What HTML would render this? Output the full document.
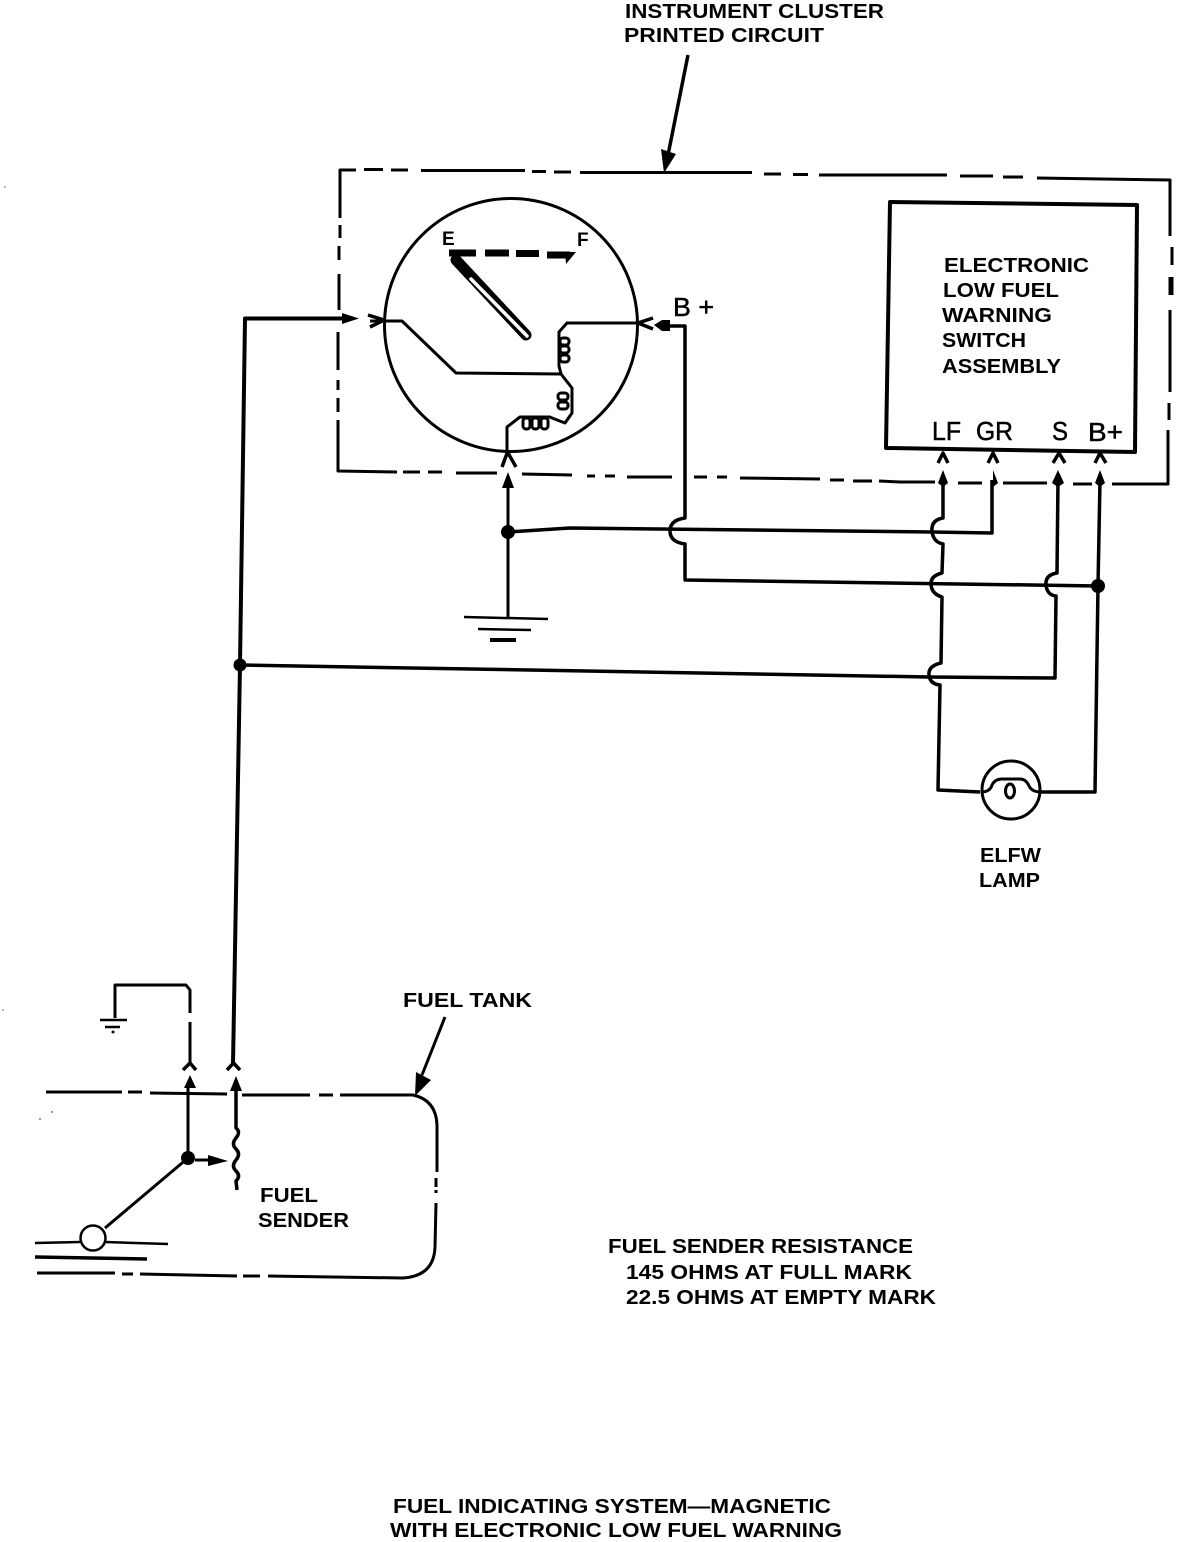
<!DOCTYPE html>
<html><head><meta charset="utf-8"><style>
html,body{margin:0;padding:0;background:#fff}
svg{display:block}
text{font-family:"Liberation Sans",sans-serif;font-weight:bold;font-size:20.500px;fill:#000}
.r{font-weight:normal;font-size:26px;stroke:#000;stroke-width:.5px}
</style></head><body>
<svg width="1184" height="1542" viewBox="0 0 1184 1542" xmlns="http://www.w3.org/2000/svg">
<g fill="none" stroke="#000" stroke-width="3" stroke-linejoin="round">
<!-- top dashed border -->
<path stroke-width="3" d="M340 218V170H356M364 169.500H383M391 170H408M421 170.500H525M532 171.500H546M554 172H571M580 172.500H752M764 174H781M793 174.500H808M819 175H947M960 176H993M1003 177H1023M1037 178L1170 180V236"/>
<path d="M1172 247V265M1170 310V392M1169 403V420M1168 430V484H1112"/>
<path stroke-width="5" d="M1171 277V295"/>
<path d="M1150 484H1112M1092 484H1073M1047 483H1003M982 483H958M935 482H900L879 481M872 481H853M844 480H830M820 479L740 478M727 477H717M707 477H694M672 477H627M615 476H605M595 476H587M572 475L522 474M497 473H456M442 472H428M420 472H403M397 472L338 471V420M338 412V398M338 390V380M338 370V332M339 310V274M339 260V246M340 238V225"/>
<!-- arrow from label -->
<path stroke-width="3.500" d="M688 55L668 155"/>
<path fill="#000" stroke="none" d="M661 149L676 154L664 173Z"/>
<!-- gauge -->
<circle cx="511" cy="325" r="126.500" stroke-width="3"/>
<path stroke-width="3" d="M370 321H402L456 373L560 374M638 323H567L559 332V366L561 374L572 388V413L565 423L552 418L550 417H520L507 427V451"/>
<g stroke-width="3"><rect x="560" y="338" width="9" height="7" rx="3"/><rect x="560" y="346" width="9" height="7" rx="3"/><rect x="560" y="355" width="9" height="7" rx="3"/>
<rect x="558" y="393" width="10" height="7" rx="3"/><rect x="558" y="402" width="10" height="7" rx="3"/>
<rect x="523" y="418" width="7" height="11" rx="3"/><rect x="532" y="418" width="7" height="11" rx="3"/><rect x="541" y="418" width="7" height="11" rx="3"/></g>
<!-- scale -->
<path stroke-width="7" d="M449 253H476M485 253H509M516 253.500H539M547 255H570"/>
<path fill="#000" stroke="none" d="M565 252H576L566 264Z"/>
<!-- needle -->
<path stroke-width="11" stroke-linecap="round" d="M456 260L526 335"/>
<path stroke="#fff" stroke-width="3.500" stroke-linecap="round" d="M471 279L527 336"/>
<!-- connectors at gauge -->
<path stroke-width="3.500" d="M368 315L384 320L370 327M653 318L638 323L653 329M502 467L507.500 452L516 467"/>
<!-- left wire -->
<path stroke-width="4" d="M345 318.500H245L240 665L233 1064"/>
<path fill="#000" stroke="none" d="M342 313L359 318.500L342 324Z"/>
<path fill="#000" stroke="none" d="M654 325L662 320H670V331H662Z"/>
<path stroke-width="3.500" d="M668 326H685V518Q670 520 670 531T685 544V580L1098 586"/>
<!-- ground feed -->
<path stroke-width="3" d="M508 487V617"/>
<path fill="#000" stroke="none" d="M508 472L514 488H502Z"/>
<path stroke-width="3.500" d="M508 532L570 528L932 532H932L992 533V480"/>
<path stroke-width="2.500" d="M464 617L548 619M478 629L531 630"/>
<path stroke-width="4" d="M490 640H516"/>
<!-- LF wire -->
<path stroke-width="3.500" d="M943 480V518Q931 520 932 531T943 544L942 573Q930 576 931 585T942 597L941 663Q928 666 929 675T940 685L938 790L980 792"/>
<!-- S wire -->
<path stroke-width="3.500" d="M1058 480L1057 573Q1045 575 1046 585T1056 596L1055 678L929 677L240 665"/>
<!-- B+ wire -->
<path stroke-width="3.500" d="M1100 480L1098 586L1095 792H1041"/>
<!-- terminal connectors -->
<path stroke-width="3.500" d="M938 463L943 453L948 463M988 463L993 453L998 463M1053 463L1059 453L1065 463M1095 463L1100 453L1106 463"/>
<g fill="#000" stroke="none">
<path d="M943 470L948 483L943 487L938 483Z"/><path d="M993 470L998 483L993 487L993 483Z"/><path d="M1058 470L1064 483L1058 487L1052 483Z"/><path d="M1100 470L1105 483L1100 487L1095 483Z"/>
</g>
<!-- lamp -->
<circle cx="1011" cy="790" r="29" stroke-width="3"/>
<path stroke-width="3" d="M981 792Q990 792 992 785Q995 779 1002 779H1020Q1026 779 1029 786Q1032 792 1041 792"/>
<ellipse cx="1010" cy="791" rx="4.500" ry="7" stroke-width="3"/>
<!-- module box -->
<path stroke-width="4" d="M890 202L1137 205L1135 452L886 448Z"/>
<!-- sender -->
<path stroke-width="3" d="M115 1018V985H186L190 990V1013M190 1022V1062"/>
<path stroke-width="3.500" d="M183 1070L190 1063L196 1070M227 1070L233.500 1063L240 1070"/>
<path stroke-width="2.500" d="M100 1020H127M105 1027H120"/>
<path stroke-width="3" d="M188 1085V1158L105 1228M195 1160H212"/>
<path fill="#000" stroke="none" d="M208 1155L228 1161L208 1166Z"/>
<path fill="#000" stroke="none" d="M190 1075L196 1088H184Z"/>
<path fill="#000" stroke="none" d="M236 1076L242 1091H230Z"/>
<path stroke-width="3.500" d="M236 1088V1128Q241 1132 236 1138T236 1149T236 1160T236 1171T236 1181L237 1190"/>
<path stroke-width="3" d="M46 1092H122M128 1092H142M150 1093L227 1094M242 1095H310M319 1095H333M340 1095H413Q436 1100 437 1125V1172M436 1178V1187M436 1190V1193M436 1203L435 1247Q434 1276 403 1278L268 1276M260 1276H243M237 1276L140 1274M133 1274H122M115 1273H37"/>
<circle cx="93" cy="1238" r="12.500" stroke-width="2.500"/>
<path stroke-width="2.500" d="M35 1243L80 1242M105 1242L168 1244"/>
<path stroke-width="3.500" d="M35 1257L147 1259"/>
<path stroke-width="3" d="M445 1017L422 1075"/>
<path fill="#000" stroke="none" d="M415 1096L416 1072L431 1080Z"/>
</g>
<g fill="#000">
<circle cx="508" cy="532" r="7"/><circle cx="240" cy="665" r="6.500"/><circle cx="1098" cy="586" r="7"/><circle cx="188" cy="1158" r="7"/>
<circle cx="113" cy="1032" r="1.500"/><circle cx="5" cy="187" r=".6"/><circle cx="3" cy="1010" r=".6"/><circle cx="52" cy="1112" r=".7"/><circle cx="40" cy="1119" r=".7"/>
</g>
<!-- labels -->
<text x="625" y="18" textLength="259" lengthAdjust="spacingAndGlyphs">INSTRUMENT CLUSTER</text>
<text x="624" y="42" textLength="200" lengthAdjust="spacingAndGlyphs">PRINTED CIRCUIT</text>
<text x="442" y="245" style="font-size:19px">E</text>
<text x="577" y="246" style="font-size:19px">F</text>
<text class="r" x="673" y="316" textLength="41" lengthAdjust="spacingAndGlyphs">B +</text>
<text x="944" y="272" textLength="145" lengthAdjust="spacingAndGlyphs">ELECTRONIC</text>
<text x="943" y="297" textLength="116" lengthAdjust="spacingAndGlyphs">LOW FUEL</text>
<text x="942" y="322" textLength="110" lengthAdjust="spacingAndGlyphs">WARNING</text>
<text x="942" y="347" textLength="84" lengthAdjust="spacingAndGlyphs">SWITCH</text>
<text x="942" y="373" textLength="119" lengthAdjust="spacingAndGlyphs">ASSEMBLY</text>
<text class="r" x="932" y="440" textLength="29" lengthAdjust="spacingAndGlyphs">LF</text>
<text class="r" x="976" y="440" textLength="37" lengthAdjust="spacingAndGlyphs">GR</text>
<text class="r" x="1052" y="440" textLength="16" lengthAdjust="spacingAndGlyphs">S</text>
<text class="r" x="1088" y="441" textLength="35" lengthAdjust="spacingAndGlyphs">B+</text>
<text x="980" y="862" textLength="61" lengthAdjust="spacingAndGlyphs">ELFW</text>
<text x="979" y="887" textLength="61" lengthAdjust="spacingAndGlyphs">LAMP</text>
<text x="403" y="1007" textLength="129" lengthAdjust="spacingAndGlyphs">FUEL TANK</text>
<text x="260" y="1202" textLength="58" lengthAdjust="spacingAndGlyphs">FUEL</text>
<text x="258" y="1227" textLength="91" lengthAdjust="spacingAndGlyphs">SENDER</text>
<text x="608" y="1253" textLength="305" lengthAdjust="spacingAndGlyphs">FUEL SENDER RESISTANCE</text>
<text x="626" y="1279" textLength="286" lengthAdjust="spacingAndGlyphs">145 OHMS AT FULL MARK</text>
<text x="626" y="1304" textLength="310" lengthAdjust="spacingAndGlyphs">22.5 OHMS AT EMPTY MARK</text>
<text x="393" y="1513" textLength="438" lengthAdjust="spacingAndGlyphs">FUEL INDICATING SYSTEM—MAGNETIC</text>
<text x="390" y="1537" textLength="452" lengthAdjust="spacingAndGlyphs">WITH ELECTRONIC LOW FUEL WARNING</text>
</svg>
</body></html>
